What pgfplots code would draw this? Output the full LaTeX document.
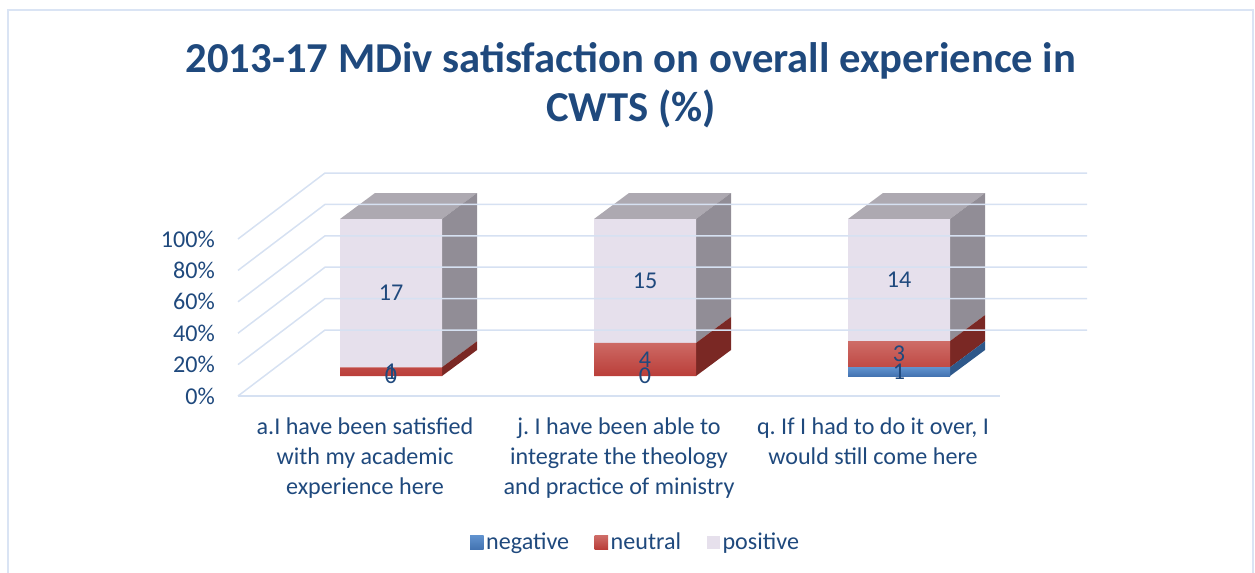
\documentclass[border=0pt]{standalone}
\usepackage{pgfplots}
\pgfplotsset{compat=1.18}
\usepackage{pgfplotstable}
\usepackage{fontspec}
\setmainfont{Carlito}
\frenchspacing

\definecolor{txtblue}{RGB}{31,73,125}
\definecolor{gridc}{RGB}{214,225,242}
\definecolor{bordc}{RGB}{218,228,244}
\definecolor{posfront}{RGB}{230,224,236}
\definecolor{posside}{RGB}{145,141,150}
\definecolor{postop}{RGB}{173,169,177}
\definecolor{neutop}{RGB}{206,108,103}
\definecolor{neubot}{RGB}{186,62,57}
\definecolor{neuside}{RGB}{122,40,36}
\definecolor{negtop}{RGB}{96,146,206}
\definecolor{negbot}{RGB}{68,116,178}
\definecolor{negside}{RGB}{46,88,138}

% percentages of each answer (neg, neu, pos) and the counts shown as labels
\pgfplotstableread{
cat neg neu pos nneg nneu npos
0 0 5.556 94.444 0 1 17
1 0 21.053 78.947 0 4 15
2 5.556 16.667 77.778 1 3 14
}\datatable

\newcommand{\lblfont}{\fontsize{24.2}{30}\selectfont}

\begin{document}
\begin{tikzpicture}
\useasboundingbox (0bp,0bp) rectangle (1255bp,-573bp);
\draw[bordc, line width=2bp] (7.5bp,-620bp) -- (7.5bp,-10bp) -- (1253bp,-10bp) -- (1253bp,-620bp);

\node[anchor=base, font=\fontsize{42.8}{50}\selectfont\bfseries, text=txtblue, inner sep=0pt] at (631bp,-72bp) {2013-17 MDiv satisfaction on overall experience in};
\node[anchor=base, font=\fontsize{42.8}{50}\selectfont\bfseries, text=txtblue, inner sep=0pt] at (631bp,-121bp) {CWTS (\%)};

\begin{axis}[
  at={(264bp,-396bp)}, anchor=south west,
  x=254bp, y=1.57bp,
  xmin=-0.5, xmax=2.5, ymin=-12.74, ymax=130,
  enlargelimits=false,
  axis lines*=left, axis line style={draw=none}, tick style={draw=none}, major tick length=0pt,
  clip=false,
  ybar stacked, bar width=102bp,
  xtick={0,1,2},
  xticklabels={{a.I have been satisfied\\with my academic\\experience here},{j. I have been able to\\integrate the theology\\and practice of ministry},{q. If I had to do it over, I\\would still come here}},
  xticklabel style={align=center, font=\lblfont, text=txtblue, xshift=-26bp, anchor=north, inner sep=0pt, yshift=-22bp},
  ytick={0,20,40,60,80,100},
  yticklabel={\pgfmathprintnumber{\tick}\%},
  yticklabel style={font=\lblfont, text=txtblue, anchor=east, inner sep=0pt, xshift=-49bp, yshift=-20bp},
  /pgf/number format/assume math mode=true,
  legend columns=3,
  legend style={at={(0.488,-0.6515)}, anchor=center, draw=none, fill=none, font=\lblfont, text=txtblue,
    /tikz/every even column/.append style={column sep=23bp}, inner sep=0pt,
    nodes={inner xsep=2.5bp, inner ysep=0pt}},
  legend image code/.code={\path[#1] (0bp,-7bp) rectangle (13.5bp,6.5bp);},
]

% back wall, side wall and floor lines
\addplot[gridc, line width=1.5bp, sharp plot, stack plots=false, forget plot] coordinates {(-0.6024,-12.74) (-0.2598,29.30) (2.7402,29.30)};
\addplot[gridc, line width=1.5bp, sharp plot, stack plots=false, forget plot] coordinates {(-0.6024,7.26) (-0.2598,49.30) (2.7402,49.30)};
\addplot[gridc, line width=1.5bp, sharp plot, stack plots=false, forget plot] coordinates {(-0.6024,27.26) (-0.2598,69.30) (2.7402,69.30)};
\addplot[gridc, line width=1.5bp, sharp plot, stack plots=false, forget plot] coordinates {(-0.6024,47.26) (-0.2598,89.30) (2.7402,89.30)};
\addplot[gridc, line width=1.5bp, sharp plot, stack plots=false, forget plot] coordinates {(-0.6024,67.26) (-0.2598,109.30) (2.7402,109.30)};
\addplot[gridc, line width=1.5bp, sharp plot, stack plots=false, forget plot] coordinates {(-0.6024,87.26) (-0.2598,129.30) (2.7402,129.30)};
\addplot[gridc, line width=1.5bp, sharp plot, stack plots=false, forget plot] coordinates {(-0.6024,-12.74) (2.3976,-12.74)};

% front faces of the stacked bars
\addplot[draw=none, top color=negtop, bottom color=negbot] table[x=cat, y=neg] {\datatable};
\addlegendentry{negative}
\addplot[draw=none, top color=neutop, bottom color=neubot] table[x=cat, y=neu] {\datatable};
\addlegendentry{neutral}
\addplot[draw=none, fill=posfront] table[x=cat, y=pos] {\datatable};
\addlegendentry{positive}

% side faces (depth) of the segments
\addplot[fill=neuside, draw=none, sharp plot, stack plots=false, forget plot] coordinates {(0.2008,0) (0.3386,16.56) (0.3386,22.116) (0.2008,5.556)} -- cycle;
\addplot[fill=posside, draw=none, sharp plot, stack plots=false, forget plot] coordinates {(0.2008,5.556) (0.3386,22.116) (0.3386,116.56) (0.2008,100)} -- cycle;
\addplot[fill=postop, draw=none, sharp plot, stack plots=false, forget plot] coordinates {(-0.2008,100) (0.2008,100) (0.3386,116.56) (-0.0630,116.56)} -- cycle;

\addplot[fill=neuside, draw=none, sharp plot, stack plots=false, forget plot] coordinates {(1.2008,0) (1.3386,16.56) (1.3386,37.613) (1.2008,21.053)} -- cycle;
\addplot[fill=posside, draw=none, sharp plot, stack plots=false, forget plot] coordinates {(1.2008,21.053) (1.3386,37.613) (1.3386,116.56) (1.2008,100)} -- cycle;
\addplot[fill=postop, draw=none, sharp plot, stack plots=false, forget plot] coordinates {(0.7992,100) (1.2008,100) (1.3386,116.56) (0.9370,116.56)} -- cycle;

\addplot[fill=negside, draw=none, sharp plot, stack plots=false, forget plot] coordinates {(2.2008,0) (2.3386,16.56) (2.3386,22.116) (2.2008,5.556)} -- cycle;
\addplot[fill=neuside, draw=none, sharp plot, stack plots=false, forget plot] coordinates {(2.2008,5.556) (2.3386,22.116) (2.3386,38.782) (2.2008,22.222)} -- cycle;
\addplot[fill=posside, draw=none, sharp plot, stack plots=false, forget plot] coordinates {(2.2008,22.222) (2.3386,38.782) (2.3386,116.56) (2.2008,100)} -- cycle;
\addplot[fill=postop, draw=none, sharp plot, stack plots=false, forget plot] coordinates {(1.7992,100) (2.2008,100) (2.3386,116.56) (1.9370,116.56)} -- cycle;

% data labels (counts); in this stacked axis a node near coords sits halfway
% between 0 and the given y, so y is twice the middle of each segment
\addplot[draw=none, sharp plot, stack plots=false, forget plot, nodes near coords, point meta=explicit symbolic,
  every node near coord/.style={anchor=center, font=\lblfont, text=txtblue, inner sep=0pt}]
  table[x=cat, y expr=\thisrow{neg}, meta=nneg] {\datatable};
\addplot[draw=none, sharp plot, stack plots=false, forget plot, nodes near coords, point meta=explicit symbolic,
  every node near coord/.style={anchor=center, font=\lblfont, text=txtblue, inner sep=0pt}]
  table[x=cat, y expr=2*\thisrow{neg}+\thisrow{neu}, meta=nneu] {\datatable};
\addplot[draw=none, sharp plot, stack plots=false, forget plot, nodes near coords, point meta=explicit symbolic,
  every node near coord/.style={anchor=center, font=\lblfont, text=txtblue, inner sep=0pt}]
  table[x=cat, y expr=2*\thisrow{neg}+2*\thisrow{neu}+\thisrow{pos}, meta=npos] {\datatable};
\end{axis}
\end{tikzpicture}
\end{document}
